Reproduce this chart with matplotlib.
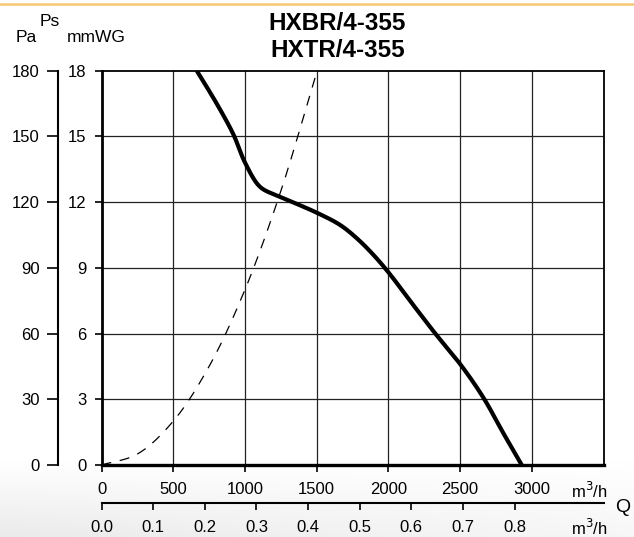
import numpy as np
import matplotlib
matplotlib.use("Agg")
import matplotlib.pyplot as plt

plt.rcParams['font.family'] = ['Liberation Sans', 'DejaVu Sans']

# ---- data ----
fan_q = [664, 803, 919, 1001, 1105, 1222, 1314, 1500, 1663, 1780, 1895, 2000, 2174, 2326, 2505, 2662, 2802, 2930]
fan_p = [18.0, 16.5, 15.1, 13.8, 12.7, 12.3, 12.05, 11.52, 10.96, 10.35, 9.6, 8.8, 7.3, 6.01, 4.57, 3.08, 1.45, 0.0]
sys_q = [0, 250, 500, 750, 1000, 1250, 1490]
sys_p = [0, 0.5, 2.0, 4.5, 8.0, 12.5, 17.7]
q_ticks = [0, 500, 1000, 1500, 2000, 2500, 3000]
mm_ticks = [0, 3, 6, 9, 12, 15, 18]
pa_ticks = [0, 30, 60, 90, 120, 150, 180]
qs_ticks = [0.0, 0.1, 0.2, 0.3, 0.4, 0.5, 0.6, 0.7, 0.8]
titles = ["HXBR/4-355", "HXTR/4-355"]


def catmull(x, y, n=30, alpha=0.5):
    """Centripetal Catmull-Rom through the given points (in screen-like scale)."""
    sx, sy = 502 / 3500.0, 394 / 18.0
    P = np.column_stack([np.asarray(x, float) * sx, np.asarray(y, float) * sy])
    P = np.vstack([2 * P[0] - P[1], P, 2 * P[-1] - P[-2]])
    out = []
    for i in range(1, len(P) - 2):
        p0, p1, p2, p3 = P[i - 1], P[i], P[i + 1], P[i + 2]
        t0 = 0.0
        t1 = t0 + np.linalg.norm(p1 - p0) ** alpha
        t2 = t1 + np.linalg.norm(p2 - p1) ** alpha
        t3 = t2 + np.linalg.norm(p3 - p2) ** alpha
        t = np.linspace(t1, t2, n, endpoint=False)[:, None]
        a1 = (t1 - t) / (t1 - t0) * p0 + (t - t0) / (t1 - t0) * p1
        a2 = (t2 - t) / (t2 - t1) * p1 + (t - t1) / (t2 - t1) * p2
        a3 = (t3 - t) / (t3 - t2) * p2 + (t - t2) / (t3 - t2) * p3
        b1 = (t2 - t) / (t2 - t0) * a1 + (t - t0) / (t2 - t0) * a2
        b2 = (t3 - t) / (t3 - t1) * a2 + (t - t1) / (t3 - t1) * a3
        c = (t2 - t) / (t2 - t1) * b1 + (t - t1) / (t2 - t1) * b2
        out.append(c)
    out.append(P[-2][None, :])
    out = np.vstack(out)
    return out[:, 0] / sx, out[:, 1] / sy


W, H = 634, 537
fig = plt.figure(figsize=(W / 100, H / 100), dpi=100)

# background: soft gray band at bottom + orange top rule
bg = fig.add_axes([0, 0, 1, 1], zorder=-10)
yy = np.linspace(0, 1, H)[:, None]
xx = np.linspace(0, 1, W)[None, :]
shade = np.clip((yy - 0.86) / 0.14, 0, 1) * (1 - 0.6 * xx)
img = 1 - 0.08 * shade
bg.imshow(np.dstack([img, img, img]), extent=[0, 1, 0, 1], aspect='auto', origin='upper')
bg.plot([0, 1], [1 - 4 / H, 1 - 4 / H], color='#f7c873', lw=1.8)
bg.set_xlim(0, 1); bg.set_ylim(0, 1)
bg.axis('off')

left, right, top, bottom = 101.5, 603.5, 70.7, 465.0
ax = fig.add_axes([left / W, 1 - bottom / H, (right - left) / W, (bottom - top) / H])
ax.set_xlim(0, 3500)
ax.set_ylim(0, 18)
ax.patch.set_alpha(0)

for q in q_ticks[1:]:
    ax.axvline(q, color='#222222', lw=0.9, zorder=1)
for p in mm_ticks[1:-1]:
    ax.axhline(p, color='#222222', lw=0.9, zorder=1)

fx, fy = catmull(fan_q, fan_p)
ax.plot(fx, fy, color='black', lw=3.0, solid_capstyle='butt', zorder=3)
sx_, sy_ = catmull(sys_q, sys_p)
ax.plot(sx_, sy_, color='black', lw=0.9, ls=(0, (8, 7)), zorder=3)

ax.spines['left'].set_linewidth(2.0)
ax.spines['bottom'].set_linewidth(2.4)
ax.spines['top'].set_linewidth(1.3)
ax.spines['right'].set_linewidth(1.3)

ax.set_xticks(q_ticks)
ax.set_xticklabels([str(v) for v in q_ticks])
ax.set_yticks(mm_ticks)
ax.set_yticklabels([str(v) for v in mm_ticks])
ax.tick_params(axis='both', direction='out', length=5, width=1.2, labelsize=12, color='black')
ax.tick_params(axis='x', pad=7)
ax.tick_params(axis='y', pad=6)

# Pa axis
pa = ax.secondary_yaxis((57.5 - left) / (right - left), functions=(lambda v: v * 10, lambda v: v / 10))
pa.set_yticks(pa_ticks)
pa.set_yticklabels([str(v) for v in pa_ticks])
pa.tick_params(direction='out', length=8, width=1.2, labelsize=12, pad=5)
pa.spines['left'].set_linewidth(1.5)

# Q axis in m3/s
qs = ax.secondary_xaxis(-(503.3 - bottom) / (bottom - top), functions=(lambda v: v / 3600, lambda v: v * 3600))
qs.set_xticks(qs_ticks)
qs.set_xticklabels([f"{v:.1f}" for v in qs_ticks])
qs.tick_params(direction='out', length=5, width=1.2, labelsize=12, pad=7)
qs.spines['bottom'].set_linewidth(1.5)

# labels
def ftext(x, y, s, **kw):
    fig.text(x / W, 1 - y / H, s, ha='center', va='center', **kw)

ftext(589, 491, "m$^3$/h", fontsize=12)
ftext(589, 528, "m$^3$/h", fontsize=12)
ftext(622.5, 508, "Q", fontsize=14)
ftext(26, 38, "Pa", fontsize=12.5)
ftext(49.5, 21, "Ps", fontsize=12.5)
ftext(96, 38, "mmWG", fontsize=12.5)
ftext(337.5, 23.5, titles[0], fontsize=17.5, fontweight='bold')
ftext(337.5, 50.5, titles[1], fontsize=17.5, fontweight='bold')

fig.savefig("out.png", dpi=100)
